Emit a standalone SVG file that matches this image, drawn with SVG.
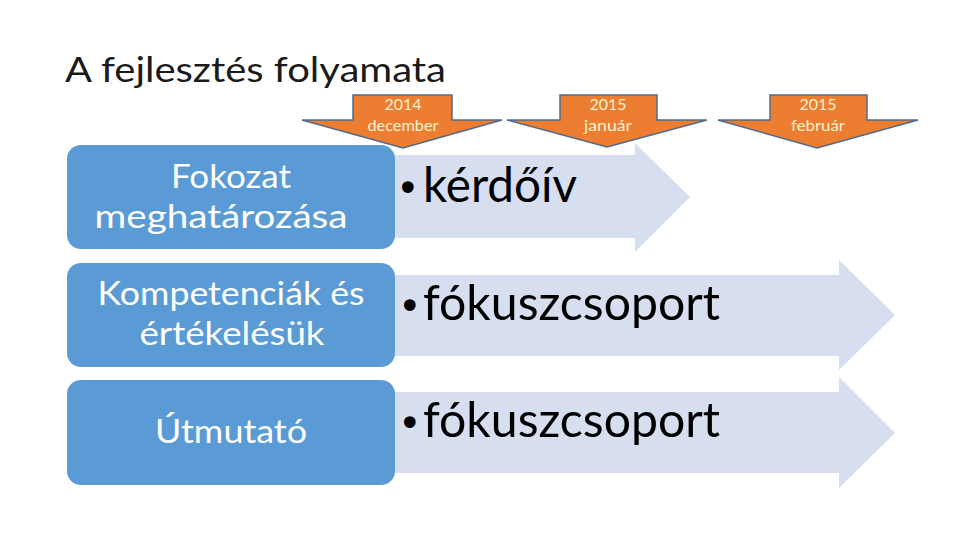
<svg xmlns="http://www.w3.org/2000/svg" width="960" height="540" viewBox="0 0 960 540">
<style>
.title{font-family:Lato,"Open Sans","Liberation Sans",sans-serif;font-size:35px;fill:#1a1a1a}
.box{fill:#5B9BD5}
.boxt{font-family:Lato,"Open Sans","Liberation Sans",sans-serif;font-size:32px;fill:#ffffff;text-anchor:middle}
.arr{fill:#D6DEEF}
.bul{font-family:Lato,"Open Sans","Liberation Sans",sans-serif;font-size:48px;fill:#000000}
.dot{font-family:"DejaVu Sans",sans-serif;font-size:40px}
.orng{fill:#ED7D31;stroke:#4F6B8C;stroke-width:1.5;stroke-linejoin:miter}
.ot{font-family:Lato,"Open Sans","Liberation Sans",sans-serif;font-size:15px;fill:#FFF2CC;text-anchor:middle}
</style>
<rect width="960" height="540" fill="#ffffff"/>
<text class="title" x="65" y="82" textLength="381" lengthAdjust="spacingAndGlyphs">A fejlesztés folyamata</text>

<g id="connectors">
  <path class="arr" d="M385,155 H635 V143 L690,197 L635,252 V238 H385 Z"/>
  <path class="arr" d="M385,275 H839 V260 L895,315 L839,370 V356 H385 Z"/>
  <path class="arr" d="M385,392 H839 V377 L895,433 L839,488 V473 H385 Z"/>
</g>

<g id="row1-text">
  <text class="bul" x="396" y="202"><tspan class="dot">•</tspan><tspan x="423" textLength="154" lengthAdjust="spacingAndGlyphs">kérdőív</tspan></text>
</g>
<g id="row2-text">
  <text class="bul" x="398" y="320"><tspan class="dot">•</tspan><tspan x="423" textLength="297" lengthAdjust="spacingAndGlyphs">fókuszcsoport</tspan></text>
</g>
<g id="row3-text">
  <text class="bul" x="398" y="437"><tspan class="dot">•</tspan><tspan x="423" textLength="297" lengthAdjust="spacingAndGlyphs">fókuszcsoport</tspan></text>
</g>

<g id="box1">
  <rect class="box" x="67" y="145" width="328" height="104" rx="14"/>
  <text class="boxt" x="231" y="188" textLength="120" lengthAdjust="spacingAndGlyphs">Fokozat</text>
  <text class="boxt" x="221" y="228" textLength="253" lengthAdjust="spacingAndGlyphs">meghatározása</text>
</g>
<g id="box2">
  <rect class="box" x="67" y="263" width="328" height="104" rx="14"/>
  <text class="boxt" x="231" y="305" textLength="267" lengthAdjust="spacingAndGlyphs">Kompetenciák és</text>
  <text class="boxt" x="232" y="345" textLength="185" lengthAdjust="spacingAndGlyphs">értékelésük</text>
</g>
<g id="box3">
  <rect class="box" x="67" y="380" width="328" height="105" rx="14"/>
  <text class="boxt" x="231" y="443" textLength="152" lengthAdjust="spacingAndGlyphs">Útmutató</text>
</g>

<g id="m2014dec">
  <path class="orng" d="M353,95 H452 V120 H502 L403,148 L302,120 H353 Z"/>
  <text class="ot" x="403" y="110" textLength="37" lengthAdjust="spacingAndGlyphs">2014</text>
  <text class="ot" x="403" y="131" textLength="71" lengthAdjust="spacingAndGlyphs">december</text>
</g>
<g id="m2015jan">
  <path class="orng" d="M560,95 H657 V120 H707 L607,147 L507,120 H560 Z"/>
  <text class="ot" x="608" y="110" textLength="37" lengthAdjust="spacingAndGlyphs">2015</text>
  <text class="ot" x="608" y="131" textLength="48" lengthAdjust="spacingAndGlyphs">január</text>
</g>
<g id="m2015feb">
  <path class="orng" d="M770,95 H867 V120 H918 L817,148 L718,120 H770 Z"/>
  <text class="ot" x="818" y="110" textLength="37" lengthAdjust="spacingAndGlyphs">2015</text>
  <text class="ot" x="818" y="131" textLength="54" lengthAdjust="spacingAndGlyphs">február</text>
</g>
</svg>
